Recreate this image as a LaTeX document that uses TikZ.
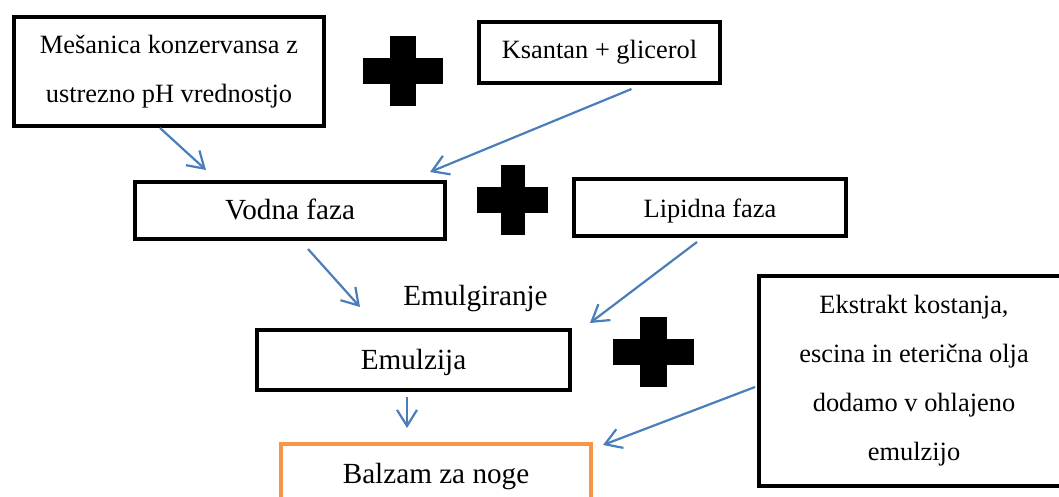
\documentclass[tikz,border=0pt]{standalone}
\usepackage{fontspec}
\setmainfont{Liberation Serif}
\usetikzlibrary{arrows.meta}
\definecolor{flowblue}{HTML}{4A7EBB}
\definecolor{balzam}{HTML}{F79646}

% center x, center y, half width, half bar
\newcommand\plusmark[4]{%
 \fill (#1-#3,#2-13) rectangle (#1+#3,#2+13);
 \fill (#1-#4,#2-35) rectangle (#1+#4,#2+35);}

\begin{document}
\begin{tikzpicture}[x=0.5pt,y=-0.5pt,
  txt/.style={font=\fontsize{13.2}{24.5}\selectfont},
  bigtxt/.style={font=\fontsize{14.6}{24.5}\selectfont},
  box/.style={draw,line width=2pt,inner sep=0pt,align=center},
  flow/.style={draw=flowblue,line width=1.1pt,
    -{Straight Barb[length=8pt,width=10pt]}}]
 \useasboundingbox (0,0) rectangle (1059,497);
 \node[box,txt,minimum width=155pt,minimum height=54.5pt] (mes) at (169,71.5)
    {Mešanica konzervansa z\\ustrezno pH vrednostjo};
 \node[box,txt,minimum width=120.5pt,minimum height=30.5pt] (ksa) at (599.5,52.5)
    {Ksantan + glicerol};
 \node[box,bigtxt,text height=10pt,text depth=1pt,
    minimum width=155pt,minimum height=28.5pt] (vod) at (290,210.5) {Vodna faza};
 \node[box,txt,text height=10pt,text depth=0pt,
    minimum width=136pt,minimum height=28.5pt] (lip) at (710,207.5) {Lipidna faza};
 \node[bigtxt,anchor=base] (emg) at (475.5,305) {Emulgiranje};
 \node[box,bigtxt,text height=10pt,text depth=1pt,
    minimum width=156.5pt,minimum height=30pt] (emu) at (413.5,360) {Emulzija};
 \node[box,bigtxt,text height=10pt,text depth=1pt,draw=balzam,
    minimum width=155pt,minimum height=30pt] (bal) at (436,474) {Balzam za noge};
 \node[box,txt,minimum width=155pt,minimum height=105pt] (eks) at (914,381)
    {Ekstrakt kostanja,\\escina in eterična olja\\dodamo v ohlajeno\\emulzijo};
 \plusmark{403}{71}{40}{13}
 \plusmark{512.5}{200}{35.5}{12}
 \plusmark{653.5}{352}{40.5}{13.5}
 \coordinate (t1) at (206,170);
 \coordinate (t2) at (430,172);
 \coordinate (t3) at (360,307);
 \coordinate (t4) at (590,323);
 \coordinate (t5) at (407,428);
 \coordinate (t6) at (603,445);
 \draw[flow] ([xshift=-4.5pt]mes.south) -- (t1);
 \draw[flow] ([xshift=16pt,yshift=-2pt]ksa.south) -- (t2);
 \draw[flow] ([xshift=9pt,yshift=-4pt]vod.south) -- (t3);
 \draw[flow] ([xshift=-6.5pt,yshift=-2pt]lip.south) -- (t4);
 \draw[flow] ([xshift=-3.25pt,yshift=-2.5pt]emu.south) -- (t5);
 \draw[flow] ([xshift=-1pt,yshift=-3pt]eks.west) -- (t6);
\end{tikzpicture}
\end{document}
